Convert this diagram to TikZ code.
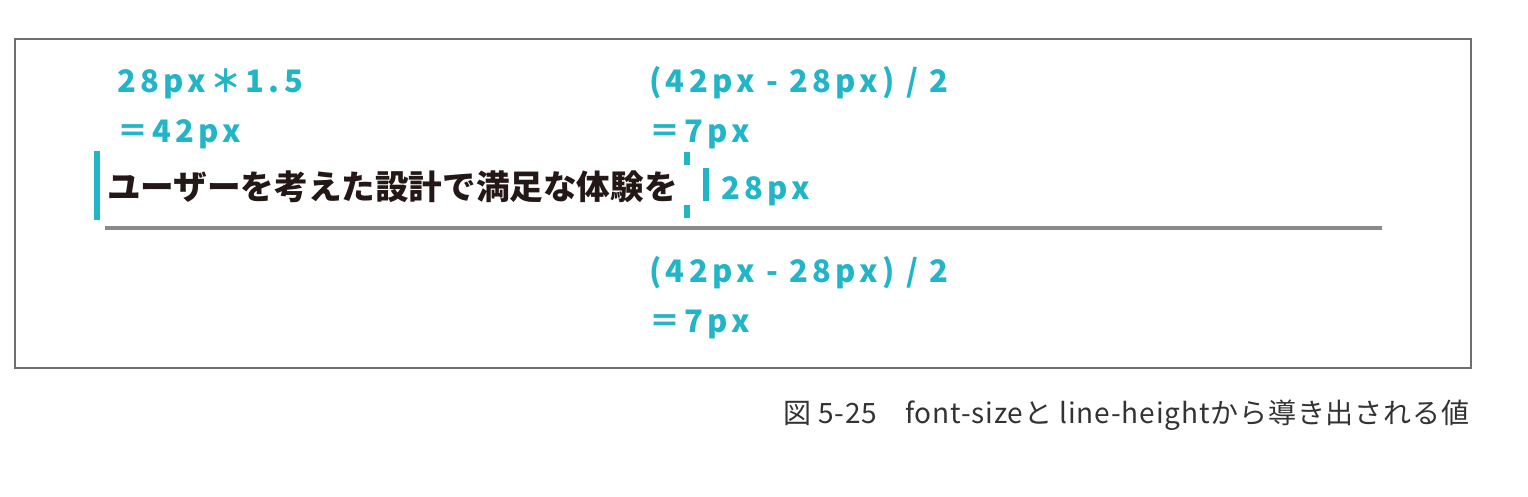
\documentclass[tikz,border=0pt]{standalone}
\usepackage{fontspec}
\setmainfont{Noto Sans CJK JP}
\newfontfamily\cyanfont[LetterSpace=14]{Noto Sans CJK JP}
\newfontfamily\jpfont{Noto Sans CJK JP}
\newfontfamily\capfont[LetterSpace=3]{Noto Sans CJK JP}
\definecolor{accent}{HTML}{22B5C8}
\definecolor{framegray}{HTML}{6E6E6E}
\definecolor{linegray}{HTML}{8A8A8A}
\definecolor{captiongray}{HTML}{333333}
\definecolor{ink}{HTML}{231815}
\tikzset{
  calc/.style={anchor=base west, inner sep=0pt, text=accent, font=\cyanfont\bfseries\fontsize{31}{31}\selectfont},
  mainline/.style={anchor=west, inner sep=0pt, text=ink, font=\jpfont\bfseries\fontsize{33.6}{34}\selectfont},
  barmark/.style={fill=accent, draw=none},
}
\begin{document}
\begin{tikzpicture}[x=1pt,y=-1pt]
\useasboundingbox (0,0) rectangle (1528,496);
\draw[framegray, line width=1.6pt] (15,39) rectangle (1471,368);
% calculations
\node[calc] (t1) at (117,92) {28px＊1.5};
\node[calc] (t2) at (117,142) {＝42px};
\node[calc] (u1) at (649,92) {(42px - 28px) / 2};
\node[calc] (u2) at (649,142) {＝7px};
\node[calc] (d1) at (649,282) {(42px - 28px) / 2};
\node[calc] (d2) at (649,332) {＝7px};
% main line
\node[mainline] (main) at (107,187) {ユーザーを考えた設計で満足な体験を};
\node[calc] (size) at (721,199) {28px};
% bars
\fill[barmark] (94,151) rectangle (100,220);
\fill[barmark] (684,152) rectangle (690,165);
\fill[barmark] (684,205) rectangle (690,218);
\fill[barmark] (703,168) rectangle (709,201);
% baseline rule
\coordinate (r1) at (105,228);
\coordinate (r2) at (1382,228);
\draw[linegray, line width=3.5pt] (r1) -- (r2);
% caption
\node[anchor=west, inner sep=0pt, text=captiongray, font=\capfont\fontsize{28}{28}\selectfont] (cap) at (783,415) {図 5-25\quad font-sizeと line-heightから導き出される値};
\end{tikzpicture}
\end{document}
